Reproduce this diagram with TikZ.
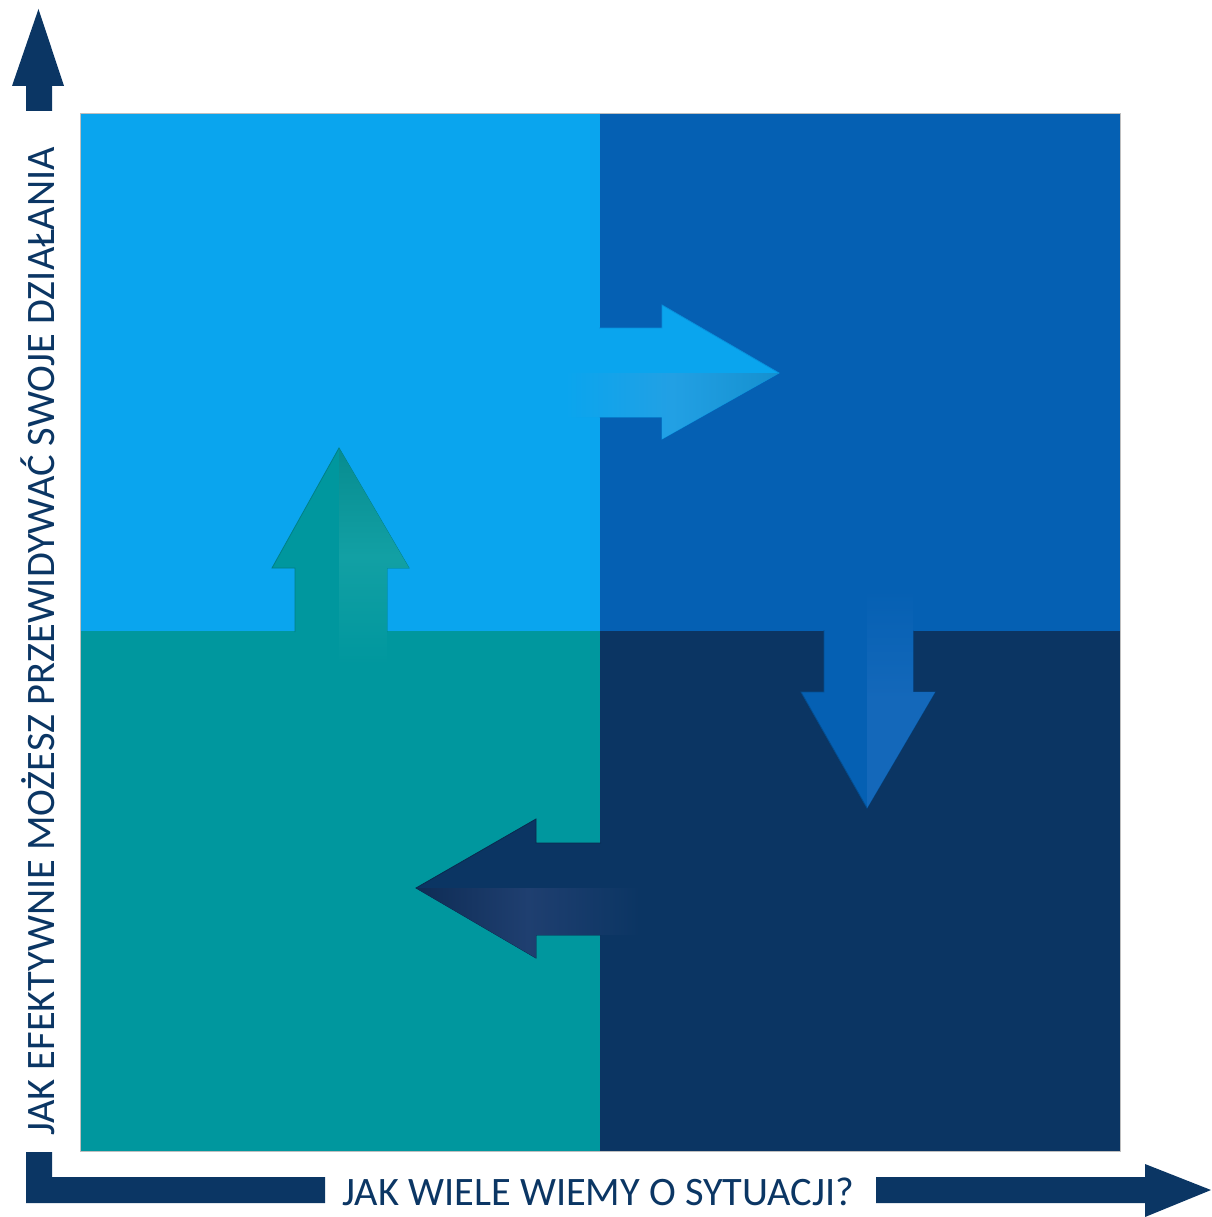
\documentclass[tikz,border=0pt]{standalone}
\usepackage{fontspec}
\setmainfont{Carlito}
\usetikzlibrary{shapes.geometric}
\definecolor{qtl}{HTML}{0AA5EE}
\definecolor{qtr}{HTML}{0560B3}
\definecolor{qbl}{HTML}{00979E}
\definecolor{qbr}{HTML}{0B3563}
\definecolor{axiscol}{HTML}{0B3664}
\definecolor{hltl}{HTML}{22A0E4}
\definecolor{hltltip}{HTML}{1590CF}
\definecolor{hlbl}{HTML}{12A0A4}
\definecolor{hlbltip}{HTML}{078C90}
\definecolor{hltr}{HTML}{1468BA}
\definecolor{hlbr}{HTML}{1F3F70}
\definecolor{hlbrtip}{HTML}{0E2C55}
\tikzset{
  quad/.style={draw=none},
  axisshape/.style={fill=axiscol, draw=none},
  flow/.style={line width=0.8pt, line join=miter},
  lbl/.style={text=axiscol, inner sep=0pt, font=\fontsize{40.4}{40.4}\selectfont}
}
\begin{document}
\begin{tikzpicture}[x=1pt,y=-1pt]
\useasboundingbox (0,0) rectangle (1211,1217);
% quadrants
\fill[qtl, quad] (80,113) rectangle (600,631);
\fill[qtr, quad] (600,113) rectangle (1120,631);
\fill[qbl, quad] (80,631) rectangle (600,1151);
\fill[qbr, quad] (600,631) rectangle (1120,1151);
\draw[black!25, line width=0.6pt] (80,113) rectangle (1120,1151);
% right arrow (TL -> TR)
\fill[qtl, flow, draw=qtl!70!qtr] (599,328) -- (662,328) -- (662,305) -- (779,373) -- (662,439) -- (662,417) -- (599,417);
\fill[qtl] (595,329) rectangle (601,416);
\shade[left color=qtl, right color=hltltip, middle color=hltl] (565,373) -- (779,373) -- (662,439) -- (662,417) -- (565,417) -- cycle;
% up arrow (BL -> TL)
\fill[qbl, flow, draw=qbl!85!black] (295,632) -- (295,568) -- (272,568) -- (339,448) -- (409,568) -- (387,568) -- (387,632);
\fill[qbl] (296,628) rectangle (386,635);
\shade[top color=hlbltip, bottom color=qbl, middle color=hlbl] (339,448) -- (409,568) -- (387,568) -- (387,665) -- (339,665) -- cycle;
% down arrow (TR -> BR)
\fill[qtr, flow, draw=qtr!80!black] (824,630) -- (824,692) -- (801,692) -- (867,808) -- (935,692) -- (913,692) -- (913,630);
\fill[qtr] (825,627) rectangle (912,634);
\shade[top color=qtr, bottom color=hltr, middle color=hltr] (867,590) -- (913,590) -- (913,692) -- (935,692) -- (867,808) -- cycle;
% left arrow (BR -> BL)
\fill[qbr, flow, draw=qbr!80!black] (601,843) -- (536,843) -- (536,819) -- (416,888) -- (536,958) -- (536,935) -- (601,935);
\fill[qbr] (597,844) rectangle (603,934);
\shade[left color=hlbrtip, right color=qbr, middle color=hlbr] (416,888) -- (640,888) -- (640,935) -- (536,935) -- (536,958) -- cycle;
% vertical axis arrow
\fill[axisshape] (26,111) -- (26,86) -- (12,86) -- (38.5,9) -- (64,86) -- (52,86) -- (52,111) -- cycle;
% bottom-left L bracket
\fill[axisshape] (26,1152) -- (26,1203) -- (325,1203) -- (325,1177) -- (52,1177) -- (52,1152) -- cycle;
% horizontal axis arrow
\fill[axisshape] (876,1177) -- (1145,1177) -- (1145,1164) -- (1211,1190) -- (1145,1217) -- (1145,1203) -- (876,1203) -- cycle;
% labels
\node[lbl] (xlabel) at (598.5,1192) {JAK WIELE WIEMY O SYTUACJI?};
\node[lbl, rotate=90] (ylabel) at (38,641.5) {JAK EFEKTYWNIE MOŻESZ PRZEWIDYWAĆ SWOJE DZIAŁANIA};
\end{tikzpicture}
\end{document}
